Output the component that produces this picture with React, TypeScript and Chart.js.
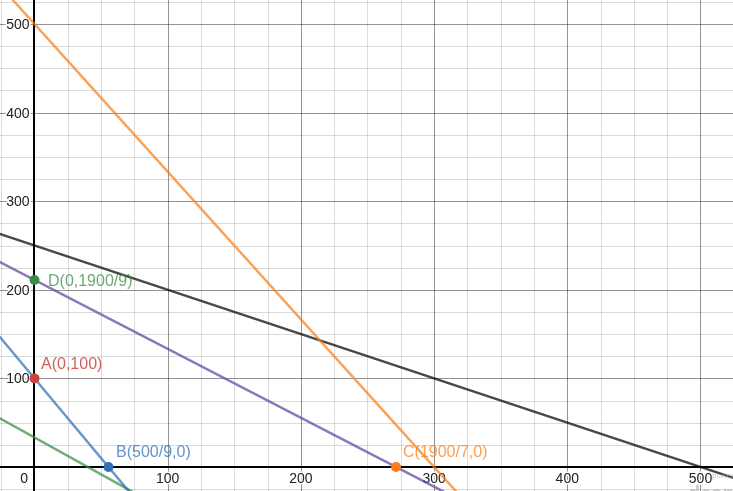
import { useEffect, useRef } from 'react';
import { Chart, registerables } from 'chart.js';

Chart.register(...registerables);

// Axis window (data units)
const X_RANGE = [-25.9, 524.4];
const Y_RANGE = [-27.1, 527.1];
const GRID_MINOR = 25;
const GRID_MAJOR = 100;

// Tick labels
const xTickLabels = [100, 200, 300, 400, 500];
const yTickLabels = [100, 200, 300, 400, 500];

// Lines (two points each, extended past the window)
const orangeX = [-30, 330];
const orangeY = [550, -50];
const blackX = [-50, 550];
const blackY = [275, -25];
const purpleX = [-50, 350];
const purpleY = [250, -61.1];
const blueX = [-50, 100];
const blueY = [190, -80];
const greenX = [-50, 100];
const greenY = [75, -50];

// Labelled points
const pointNames = ['A(0,100)', 'B(500/9,0)', 'C(1900/7,0)', 'D(0,1900/9)'];
const pointX = [0, 500 / 9, 1900 / 7, 0];
const pointY = [100, 0, 0, 1900 / 9];

const FONT = '"Liberation Sans", Arial, sans-serif';
const pointColors = ['#c74440', '#2d70b3', '#fa7e19', '#388c46'];
const labelColors = ['rgba(199,68,64,0.85)', 'rgba(45,112,179,0.75)', 'rgba(250,126,25,0.75)', 'rgba(56,140,70,0.75)'];
const labelOffsets = [[6.5, -9.5], [7.5, -10], [7, -10], [13.5, 6]];

const toPts = (xs: number[], ys: number[]) => xs.map((x, i) => ({ x, y: ys[i] }));

export default function App() {
  const ref = useRef<HTMLCanvasElement | null>(null);

  useEffect(() => {
    if (!ref.current) return;

    const labelsPlugin = {
      id: 'desmosLabels',
      beforeDatasetsDraw(chart: any) {
        const { ctx, chartArea } = chart;
        const xs = chart.scales.x;
        const ys = chart.scales.y;
        const x0 = Math.round(xs.getPixelForValue(0));
        const y0 = Math.round(ys.getPixelForValue(0));
        ctx.save();
        // grid
        const drawV = (v: number, color: string, w: number) => {
          const px = Math.round(xs.getPixelForValue(v)) + (w % 2 ? 0.5 : 0);
          ctx.strokeStyle = color; ctx.lineWidth = w;
          ctx.beginPath(); ctx.moveTo(px, chartArea.top); ctx.lineTo(px, chartArea.bottom); ctx.stroke();
        };
        const drawH = (v: number, color: string, w: number) => {
          const py = Math.round(ys.getPixelForValue(v)) + (w % 2 ? 0.5 : 0);
          ctx.strokeStyle = color; ctx.lineWidth = w;
          ctx.beginPath(); ctx.moveTo(chartArea.left, py); ctx.lineTo(chartArea.right, py); ctx.stroke();
        };
        for (let v = Math.ceil(X_RANGE[0] / GRID_MINOR) * GRID_MINOR; v <= X_RANGE[1]; v += GRID_MINOR) {
          if (v === 0) continue;
          drawV(v, v % GRID_MAJOR === 0 ? 'rgba(0,0,0,0.42)' : 'rgba(0,0,0,0.14)', 1);
        }
        for (let v = Math.ceil(Y_RANGE[0] / GRID_MINOR) * GRID_MINOR; v <= Y_RANGE[1]; v += GRID_MINOR) {
          if (v === 0) continue;
          drawH(v, v % GRID_MAJOR === 0 ? 'rgba(0,0,0,0.42)' : 'rgba(0,0,0,0.14)', 1);
        }
        drawV(0, '#000', 2);
        drawH(0, '#000', 2);

        // tick labels
        ctx.font = `14px ${FONT}`;
        ctx.fillStyle = '#222';
        ctx.strokeStyle = '#fff';
        ctx.lineWidth = 3;
        ctx.lineJoin = 'round';
        ctx.textBaseline = 'alphabetic';
        ctx.textAlign = 'center';
        xTickLabels.forEach((v) => {
          const px = xs.getPixelForValue(v);
          ctx.strokeText(String(v), px, y0 + 16);
          ctx.fillText(String(v), px, y0 + 16);
        });
        ctx.textAlign = 'right';
        yTickLabels.forEach((v) => {
          const py = ys.getPixelForValue(v);
          ctx.strokeText(String(v), x0 - 4.5, py + 5);
          ctx.fillText(String(v), x0 - 4.5, py + 5);
        });
        ctx.strokeText('0', x0 - 6, y0 + 16);
        ctx.fillText('0', x0 - 6, y0 + 16);
        ctx.restore();
      },
      afterDatasetsDraw(chart: any) {
        const { ctx } = chart;
        const xs = chart.scales.x;
        const ys = chart.scales.y;
        ctx.save();
        ctx.font = `16px ${FONT}`;
        ctx.textAlign = 'left';
        ctx.textBaseline = 'alphabetic';
        pointNames.forEach((name, i) => {
          const px = xs.getPixelForValue(pointX[i]);
          const py = ys.getPixelForValue(pointY[i]);
          ctx.fillStyle = labelColors[i];
          ctx.fillText(name, px + labelOffsets[i][0], py + labelOffsets[i][1]);
        });
        // faint watermark
        ctx.fillStyle = 'rgba(170,170,170,0.6)';
        ctx.font = `8px ${FONT}`;
        ctx.fillText('powered by', 712, 478);
        ctx.font = `bold 20px ${FONT}`;
        ctx.fillText('desmos', 688, 500);
        ctx.restore();
      },
    };

    const lineDs = (xs: number[], ys: number[], color: string) => ({
      type: 'scatter' as const,
      data: toPts(xs, ys),
      showLine: true,
      borderColor: color,
      backgroundColor: color,
      borderWidth: 2.5,
      pointRadius: 0,
      pointHoverRadius: 0,
    });

    const pointDs = pointNames.map((_, i) => ({
      type: 'scatter' as const,
      data: [{ x: pointX[i], y: pointY[i] }],
      showLine: false,
      pointRadius: 5,
      pointBackgroundColor: pointColors[i],
      pointBorderColor: pointColors[i],
      pointBorderWidth: 0,
    }));

    const chart = new Chart(ref.current, {
      type: 'scatter',
      data: {
        datasets: [
          ...pointDs,
          lineDs(orangeX, orangeY, 'rgba(250,126,25,0.72)'),
          lineDs(blackX, blackY, 'rgba(0,0,0,0.72)'),
          lineDs(purpleX, purpleY, 'rgba(96,66,166,0.72)'),
          lineDs(blueX, blueY, 'rgba(45,112,179,0.72)'),
          lineDs(greenX, greenY, 'rgba(56,140,70,0.72)'),
        ] as any,
      },
      options: {
        responsive: false,
        animation: false,
        devicePixelRatio: 1,
        layout: { padding: 0, autoPadding: false },
        plugins: { legend: { display: false }, tooltip: { enabled: false } },
        events: [],
        scales: {
          x: { type: 'linear', display: false, min: X_RANGE[0], max: X_RANGE[1] },
          y: { type: 'linear', display: false, min: Y_RANGE[0], max: Y_RANGE[1] },
        },
      },
      plugins: [labelsPlugin],
    } as any);

    return () => chart.destroy();
  }, []);

  return (
    <div style={{ position: 'fixed', left: 0, top: 0, width: 733, height: 491, background: '#fff' }}>
      <canvas ref={ref} width={733} height={491} style={{ display: 'block' }} />
    </div>
  );
}
